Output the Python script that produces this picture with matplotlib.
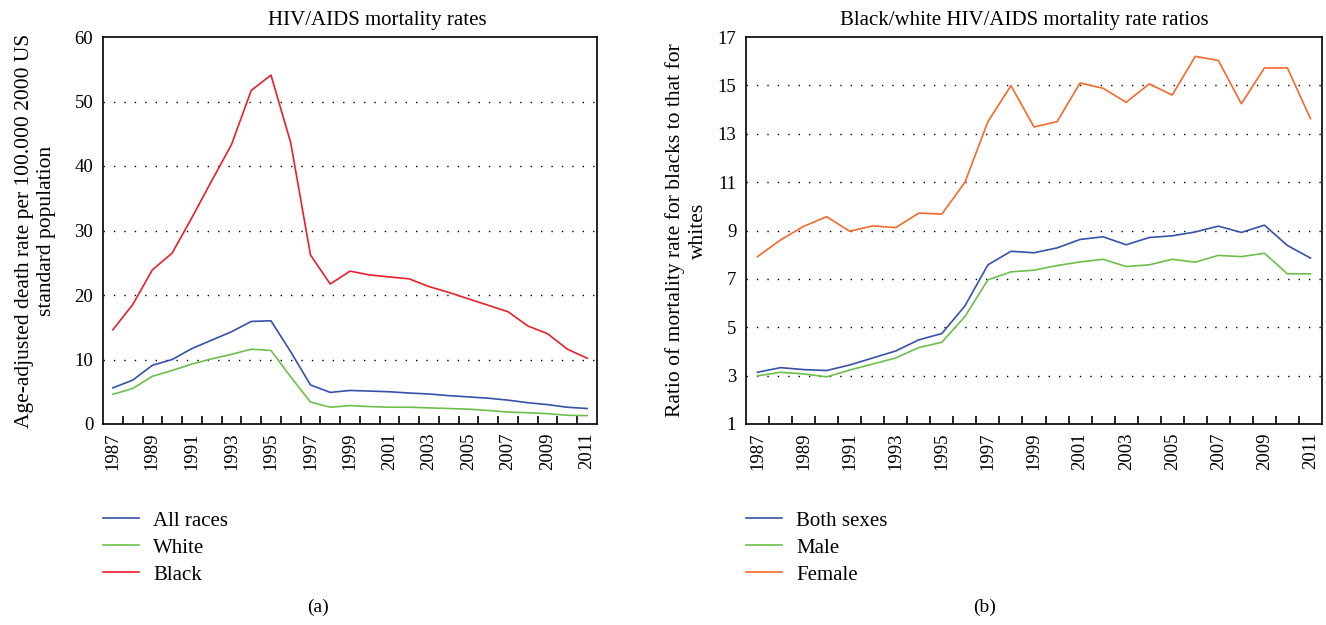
import matplotlib
matplotlib.use("Agg")
import matplotlib.pyplot as plt
from matplotlib.lines import Line2D
import numpy as np

plt.rcParams["font.family"] = ["Liberation Serif", "DejaVu Serif"]

years = list(range(1987, 2012))

# panel (a): age-adjusted death rates
all_races = [5.6, 6.8, 9.1, 10.0, 11.7, 13.0, 14.3, 15.9, 16.0, 11.2, 6.05, 4.9, 5.2,
             5.1, 5.0, 4.8, 4.65, 4.4, 4.2, 4.0, 3.7, 3.3, 3.0, 2.6, 2.4]
white = [4.6, 5.5, 7.4, 8.3, 9.3, 10.1, 10.8, 11.6, 11.4, 7.3, 3.4, 2.6, 2.85,
         2.7, 2.6, 2.6, 2.5, 2.4, 2.3, 2.1, 1.85, 1.75, 1.6, 1.35, 1.3]
black = [14.6, 18.5, 23.9, 26.5, 32.0, 37.7, 43.3, 51.7, 54.1, 43.6, 26.2, 21.7, 23.7,
         23.1, 22.8, 22.5, 21.3, 20.4, 19.4, 18.4, 17.4, 15.2, 14.0, 11.6, 10.2]

# panel (b): black/white ratios
both_sexes = [3.14, 3.33, 3.25, 3.21, 3.44, 3.73, 4.02, 4.48, 4.74, 5.88, 7.58, 8.14, 8.08,
              8.28, 8.63, 8.74, 8.41, 8.71, 8.78, 8.94, 9.18, 8.92, 9.22, 8.38, 7.86]
male = [2.99, 3.14, 3.07, 2.95, 3.23, 3.48, 3.73, 4.16, 4.38, 5.44, 6.96, 7.29, 7.36,
        7.55, 7.70, 7.81, 7.51, 7.58, 7.81, 7.69, 7.97, 7.92, 8.06, 7.21, 7.21]
female = [7.92, 8.61, 9.17, 9.57, 8.97, 9.19, 9.12, 9.72, 9.68, 10.99, 13.5, 14.99, 13.28,
          13.5, 15.1, 14.88, 14.3, 15.06, 14.6, 16.2, 16.03, 14.24, 15.72, 15.72, 13.62]

BLUE, GREEN, RED, ORANGE = "#3452a8", "#6cc04a", "#e8202a", "#f46a2c"

W, H = 1326, 625
fig = plt.figure(figsize=(W / 100, H / 100), dpi=100)

def px_axes(l, t, r, b):
    return fig.add_axes([l / W, 1 - b / H, (r - l) / W, (b - t) / H])

def style(ax, yticks):
    x = np.arange(len(years))
    ax.set_xlim(-0.5, len(years) - 0.5)
    ax.set_xticks(x[::2])
    ax.set_xticklabels([str(y) for y in years[::2]], rotation=90, fontsize=13.5)
    ax.set_xticks(np.arange(0.5, len(years) - 1, 1), minor=True)
    ax.tick_params(axis="x", which="major", length=0, pad=6)
    ax.tick_params(axis="x", which="minor", direction="in", length=6, width=1.2)
    ax.set_yticks(yticks)
    ax.set_ylim(yticks[0], yticks[-1])
    ax.tick_params(axis="y", length=0, labelsize=13.5, pad=7)
    for yv in yticks[1:-1]:
        ax.axhline(yv, color="black", lw=1.0, ls=(0, (1, 6.5)), zorder=0)
    for s in ax.spines.values():
        s.set_linewidth(1.2)

x = np.arange(len(years))

# ---- (a) ----
a1 = px_axes(103, 37, 597, 424)
a1.plot(x, all_races, color=BLUE, lw=1.2)
a1.plot(x, white, color=GREEN, lw=1.2)
a1.plot(x, black, color=RED, lw=1.2)
style(a1, [0, 10, 20, 30, 40, 50, 60])
a1.set_ylabel("Age-adjusted death rate per 100.000 2000 US\nstandard population", fontsize=15.5,
              linespacing=1.25)
a1.yaxis.set_label_coords(-0.095, 0.5)
fig.text(377 / W, 1 - 21 / H, "HIV/AIDS mortality rates", ha="center", va="center", fontsize=15)

# ---- (b) ----
a2 = px_axes(746, 37, 1322, 424)
a2.plot(x, both_sexes, color=BLUE, lw=1.2)
a2.plot(x, male, color=GREEN, lw=1.2)
a2.plot(x, female, color=ORANGE, lw=1.2)
style(a2, [1, 3, 5, 7, 9, 11, 13, 15, 17])
a2.set_ylabel("Ratio of mortality rate for blacks to that for\nwhites", fontsize=15.5,
              linespacing=1.25)
a2.yaxis.set_label_coords(-0.066, 0.5)
fig.text(1024 / W, 1 - 21 / H, "Black/white HIV/AIDS mortality rate ratios", ha="center",
         va="center", fontsize=15)

# ---- legends ----
def legend(left, labels, colors):
    handles = [Line2D([], [], color=c, lw=1.2) for c in colors]
    fig.legend(handles, labels, loc="upper left", bbox_to_anchor=(left / W, 1 - 511 / H),
               frameon=False, fontsize=15, handlelength=1.75, handletextpad=0.67,
               labelspacing=0.36, borderaxespad=0, borderpad=0)

legend(103, ["All races", "White", "Black"], [BLUE, GREEN, RED])
legend(746, ["Both sexes", "Male", "Female"], [BLUE, GREEN, ORANGE])

fig.text(318 / W, 1 - 607 / H, "(a)", ha="center", va="center", fontsize=14)
fig.text(985 / W, 1 - 607 / H, "(b)", ha="center", va="center", fontsize=14)

fig.savefig("out.png", dpi=100)
